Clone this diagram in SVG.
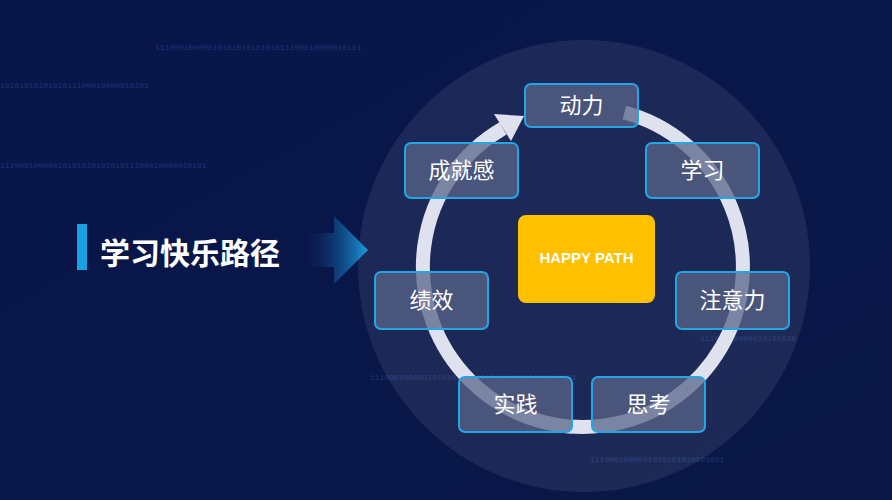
<svg xmlns="http://www.w3.org/2000/svg" width="892" height="500" viewBox="0 0 892 500">
<defs>
<linearGradient id="bg" x1="0" y1="0" x2="1" y2="1"><stop offset="0" stop-color="#08154a"/><stop offset="1" stop-color="#0a1848"/></linearGradient>
<linearGradient id="ar" x1="0" y1="0" x2="1" y2="0"><stop offset="0" stop-color="#0a1850" stop-opacity="0"/><stop offset="1" stop-color="#1a9be0"/></linearGradient>
<style>
.b{fill:#5a6488;fill-opacity:.75;stroke:#22a6e6;stroke-width:2}
.t{font-family:"Noto Sans CJK SC","Noto Sans",sans-serif;font-size:22px;fill:#fff;text-anchor:middle;dominant-baseline:central}
.bin{font-family:"Liberation Mono",monospace;font-size:8px;fill:#3a5aa8;opacity:.45}
</style>
</defs>
<rect width="892" height="500" fill="url(#bg)"/>
<text class="bin" x="155" y="50">1110001000001010101010101011100010000010101</text>
<text class="bin" x="0" y="88">1010101010101011100010000010101</text>
<text class="bin" x="0" y="168">1110001000001010101010101011100010000010101</text>
<text class="bin" x="700" y="341">11100010000010101010</text>
<text class="bin" x="370" y="380">1110001000001010101010101011100010000010101</text>
<text class="bin" x="590" y="462">1110001000001010101010101011</text>
<circle cx="584" cy="266" r="226" fill="#fff" fill-opacity=".08"/>
<g id="connectors">
<path d="M624.4 112.5 A160 160 0 1 1 503 128.4" fill="none" stroke="#dfe1ee" stroke-width="14"/>
<polygon points="524,116 511,141 494,114" fill="#dfe1ee"/>
</g>
<g id="title"><rect x="77" y="224" width="10" height="46" fill="#1ba1e2"/><text x="190" y="251" style="font-family:'Noto Sans CJK SC',sans-serif;font-size:30px;font-weight:bold;fill:#fff;text-anchor:middle;dominant-baseline:central">学习快乐路径</text></g>
<g id="arrow"><polygon points="300,233 334,233 334,216 368,250 334,284 334,267 300,267" fill="url(#ar)"/></g>
<g id="center"><rect x="518" y="215" width="137" height="88" rx="8" fill="#ffc000"/><text x="586.5" y="257" style="font-family:'Liberation Sans',sans-serif;font-size:15px;font-weight:bold;fill:#fff;text-anchor:middle;dominant-baseline:central">HAPPY PATH</text></g>
<g id="n1"><rect class="b" x="525" y="84" width="113" height="43" rx="6"/><text class="t" x="581.5" y="103">动力</text></g>
<g id="n2"><rect class="b" x="646" y="143" width="113" height="55" rx="6"/><text class="t" x="702.5" y="168">学习</text></g>
<g id="n3"><rect class="b" x="676" y="272" width="113" height="57" rx="6"/><text class="t" x="732.5" y="298">注意力</text></g>
<g id="n4"><rect class="b" x="592" y="377" width="113" height="55" rx="6"/><text class="t" x="648.5" y="402">思考</text></g>
<g id="n5"><rect class="b" x="459" y="377" width="113" height="55" rx="6"/><text class="t" x="515.5" y="402">实践</text></g>
<g id="n6"><rect class="b" x="375" y="272" width="113" height="57" rx="6"/><text class="t" x="431.5" y="298">绩效</text></g>
<g id="n7"><rect class="b" x="405" y="143" width="113" height="55" rx="6"/><text class="t" x="461.5" y="168">成就感</text></g>
</svg>
